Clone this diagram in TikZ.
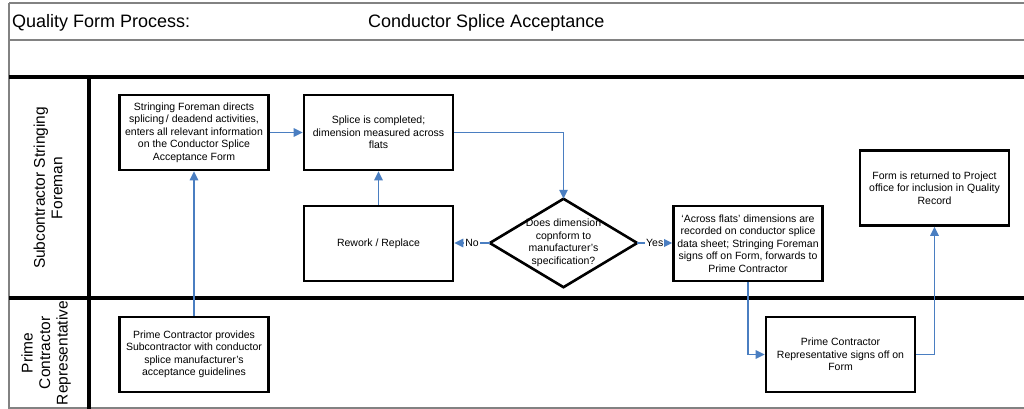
\documentclass[tikz,border=0pt]{standalone}
\usepackage{fontspec}
\setmainfont{Liberation Sans}
\usetikzlibrary{arrows.meta}
\definecolor{flowblue}{RGB}{74,126,193}
\definecolor{framegray}{RGB}{130,130,130}
\begin{document}
\begin{tikzpicture}[x=1pt,y=-1pt,
  stepbox/.style={draw=black, line width=2.6pt, fill=white,
    minimum width=149pt, minimum height=75pt, inner sep=0pt,
    align=center, font=\fontsize{10.5}{12.5}\selectfont},
  flow/.style={draw=flowblue, line width=1.4pt,
    -{Triangle[length=9pt,width=8.5pt]}},
  flowlabel/.style={fill=white, inner sep=1pt,
    font=\fontsize{10.5}{12}\selectfont},
  frameline/.style={draw=framegray, line width=1.2pt},
  laneline/.style={draw=black, line width=3.2pt},
  lanetitle/.style={rotate=90, align=center,
    font=\fontsize{15.5}{17.5}\selectfont},
  titletext/.style={anchor=base west, inner sep=0pt,
    font=\fontsize{18}{20}\selectfont}]
\useasboundingbox (0,0) rectangle (1024,409);

% outer frame and title rows
\draw[frameline] (9,3) -- (1024,3);
\draw[frameline] (9,40) -- (1024,40);
\draw[frameline] (9,408) -- (1024,408);
\draw[frameline] (9,3) -- (9,409);
\node[titletext] (ttl) at (12,28) {Quality Form Process:};
\node[titletext] (ttr) at (368,28) {Conductor Splice Acceptance};

% swim lanes
\draw[laneline] (9,77) -- (1024,77);
\draw[laneline] (9,298) -- (1024,298);
\draw[laneline] (89,77) -- (89,409);
\node[lanetitle] (lane1) at (48,188) {Subcontractor Stringing\\Foreman};
\node[lanetitle] (lane2) at (46,353) {Prime\\Contractor\\Representative};

% process steps
\node[stepbox] (dir) at (194,132.5) {Stringing Foreman directs\\splicing\,/ deadend activities,\\enters all relevant information\\on the Conductor Splice\\Acceptance Form};
\node[stepbox] (comp) at (378.5,132.5) {Splice is completed;\\dimension measured across\\flats};
\node[stepbox] (rework) at (378.5,243.5) {Rework / Replace};
\node[stepbox] (across) at (748,243.5) {‘Across flats’ dimensions are\\recorded on conductor splice\\data sheet; Stringing Foreman\\signs off on Form, forwards to\\Prime Contractor};
\node[stepbox] (form) at (934.5,188) {Form is returned to Project\\office for inclusion in Quality\\Record};
\node[stepbox] (prov) at (194,354.5) {Prime Contractor provides\\Subcontractor with conductor\\splice manufacturer's\\acceptance guidelines};
\node[stepbox] (signs) at (840.5,354.5) {Prime Contractor\\Representative signs off on\\Form};

% decision
\node[minimum width=147pt, minimum height=88pt, inner sep=0pt, align=center,
  font=\fontsize{10.5}{12.5}\selectfont] (dec) at (563.5,243)
  {Does dimension\\copnform to\\manufacturer's\\specification?};
\draw[draw=black, line width=2.6pt, line join=miter]
  (dec.north) -- (dec.east) -- (dec.south) -- (dec.west) -- cycle;

% connectors
\draw[flow] (prov.north) -- (dir.south);
\draw[flow] (dir.east) -- (comp.west);
\draw[flow] (rework.north) -- (comp.south);
\draw[flow] (comp.east) -| (dec.north);
\draw[flow] (dec.west) -- node[flowlabel] (no) {No} (dec.west -| rework.east);
\draw[flow] (dec.east) -- node[flowlabel] (yes) {Yes} (dec.east -| across.west);
\draw[flow] (across.south) |- (signs.west);
\draw[flow] (signs.east) -| (form.south);
\end{tikzpicture}
\end{document}
